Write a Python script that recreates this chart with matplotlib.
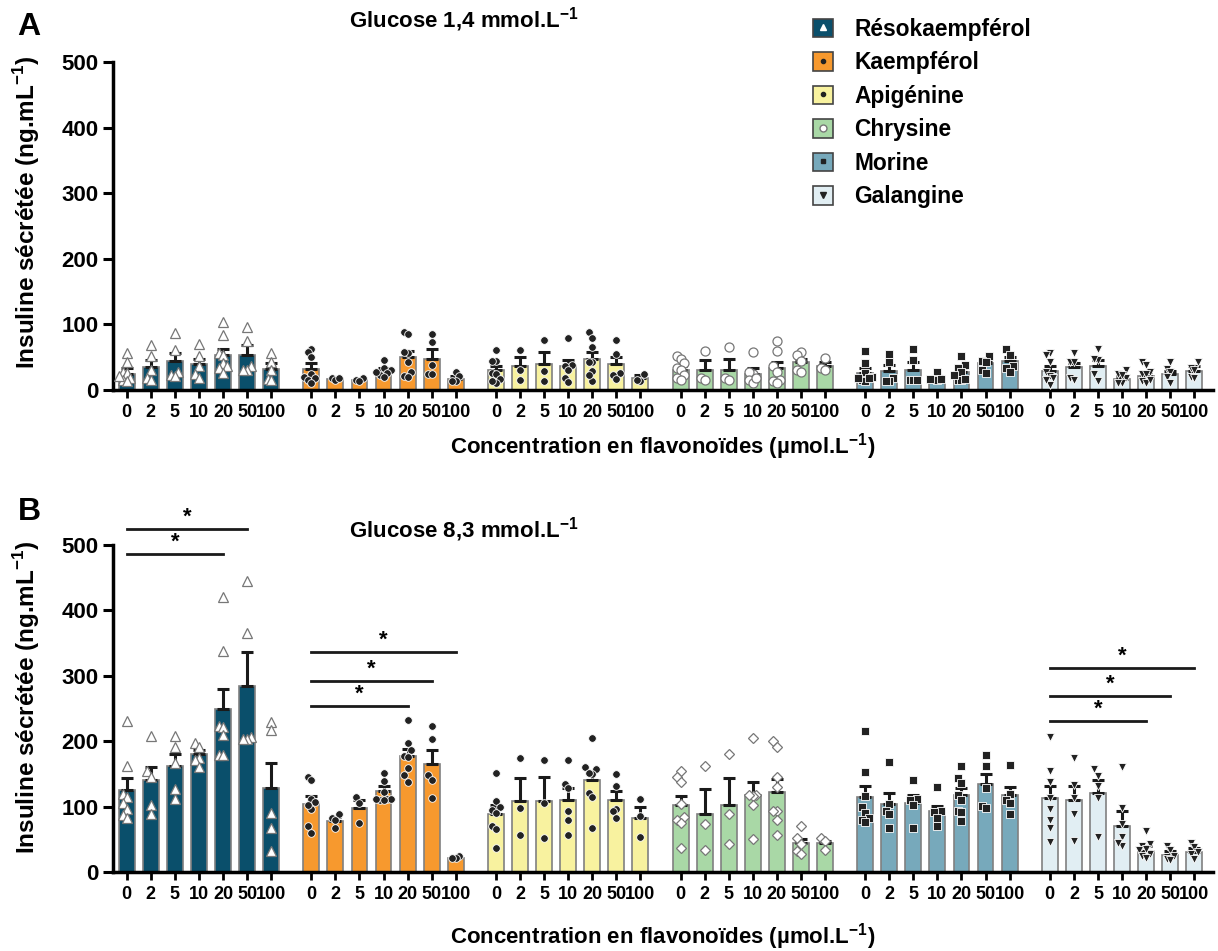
import numpy as np
import matplotlib.pyplot as plt
from matplotlib.patches import Patch
from matplotlib.lines import Line2D
from matplotlib.legend_handler import HandlerTuple

plt.rcParams['font.family'] = 'Liberation Sans'
plt.rcParams['font.weight'] = 'bold'
plt.rcParams['mathtext.fontset'] = 'custom'
plt.rcParams['mathtext.rm'] = 'Liberation Sans:bold'
plt.rcParams['mathtext.bf'] = 'Liberation Sans:bold'

concs = ['0', '2', '5', '10', '20', '50', '100']
compounds = ['Résokaempférol', 'Kaempférol', 'Apigénine', 'Chrysine', 'Morine', 'Galangine']
colors = ['#0a4f6b', '#f7992e', '#f8f29f', '#a9d8a6', '#77a9bb', '#e1eef3']

# glucose 1,4 mmol/L
reso_A_mean = [24, 35, 44, 40, 53, 53, 32]
reso_A_sem = [9, 10, 13, 8, 10, 15, 9]
reso_A_pts = [[57, 42, 28, 26, 19, 16, 13, 22], [69, 52, 30, 19, 15], [87, 61, 28, 23, 21],
              [70, 52, 36, 25, 19], [103, 84, 56, 53, 41, 36, 33, 26], [96, 74, 36, 30, 30],
              [56, 43, 30, 17, 15]]
kaem_A_mean = [32, 17, 15, 29, 50, 48, 17]
kaem_A_sem = [9, 2, 2, 4, 9, 14, 4]
kaem_A_pts = [[63, 58, 50, 25, 20, 15, 18, 10], [18, 15, 18], [18, 15, 14],
              [45, 33, 30, 26, 23, 20, 28], [88, 86, 57, 42, 28, 21, 20, 58], [85, 73, 38, 25, 24],
              [28, 21, 13, 14]]
api_A_mean = [30, 36, 39, 36, 48, 39, 18]
api_A_sem = [7, 14, 19, 10, 10, 12, 5]
api_A_pts = [[61, 44, 44, 26, 24, 17, 10, 14], [61, 30, 15], [76, 29, 13],
             [80, 38, 36, 30, 18, 12], [88, 79, 66, 42, 29, 14, 42, 23], [76, 55, 26, 23, 17],
             [25, 14, 15]]
chry_A_mean = [30, 31, 31, 25, 33, 43, 37]
chry_A_sem = [6, 15, 17, 8, 9, 5, 6]
chry_A_pts = [[52, 48, 41, 33, 30, 23, 18, 15], [60, 19, 16], [65, 19, 15],
              [58, 25, 28, 15, 10, 18], [75, 59, 37, 28, 15, 13, 10], [58, 53, 44, 30, 28],
              [49, 33, 30]]
mor_A_mean = [26, 29, 31, 20, 28, 41, 44]
mor_A_sem = [7, 9, 11, 2, 6, 4, 6]
mor_A_pts = [[60, 41, 26, 20, 16, 13, 18, 19], [55, 43, 18, 13, 13], [62, 46, 16, 16, 16],
             [28, 17, 16, 17, 17], [52, 38, 34, 27, 15, 15, 17, 23], [52, 44, 43, 31, 26],
             [63, 53, 37, 33, 28]]
gal_A_mean = [29, 35, 37, 17, 21, 24, 29]
gal_A_sem = [7, 6, 9, 4, 7, 5, 7]
gal_A_pts = [[57, 53, 42, 28, 21, 19, 8, 15], [57, 43, 43, 18, 15], [62, 45, 47, 24, 13],
             [31, 24, 19, 10, 10, 23], [43, 38, 27, 25, 24, 13, 10, 15], [42, 32, 28, 20, 11],
             [42, 34, 31, 20, 19]]

# glucose 8,3 mmol/L
reso_B_mean = [125, 140, 162, 180, 250, 285, 128]
reso_B_sem = [19, 21, 18, 6, 30, 52, 39]
reso_B_pts = [[231, 162, 120, 114, 106, 97, 87, 82], [208, 155, 145, 102, 88], [208, 191, 167, 127, 112],
              [198, 191, 174, 172, 161], [421, 338, 223, 222, 209, 179, 179], [445, 365, 206, 204, 204],
              [230, 217, 90, 67, 32]]
kaem_B_mean = [104, 78, 98, 124, 177, 165, 22]
kaem_B_sem = [12, 6, 12, 7, 11, 21, 2]
kaem_B_pts = [[146, 140, 112, 107, 97, 71, 60, 102], [88, 83, 79, 67], [115, 106, 75],
              [152, 139, 122, 111, 110, 111, 111, 110], [233, 197, 186, 178, 176, 159, 148, 138],
              [223, 203, 148, 140, 113], [24, 21, 21]]
api_B_mean = [89, 109, 109, 110, 140, 110, 83]
api_B_sem = [13, 35, 36, 18, 14, 14, 17]
api_B_pts = [[152, 108, 100, 95, 90, 70, 66, 37], [174, 98, 56], [172, 105, 52],
             [172, 134, 128, 93, 80, 57], [205, 158, 160, 150, 151, 121, 114, 68],
             [150, 131, 96, 93, 82], [111, 86, 53]]
chry_B_mean = [102, 89, 103, 117, 123, 44, 44]
chry_B_sem = [14, 38, 40, 21, 19, 6, 4]
chry_B_pts = [[154, 145, 138, 104, 84, 79, 75, 37], [162, 73, 34], [180, 88, 43],
              [205, 118, 116, 103, 51, 117], [200, 191, 145, 130, 93, 93, 80, 56],
              [70, 52, 43, 32, 28], [52, 47, 34]]
mor_B_mean = [115, 104, 106, 93, 117, 134, 117]
mor_B_sem = [17, 17, 11, 8, 11, 16, 13]
mor_B_pts = [[216, 153, 116, 100, 90, 82, 80, 76], [168, 104, 94, 88, 67], [140, 112, 110, 102, 68],
             [130, 94, 91, 83, 70], [162, 143, 136, 117, 110, 94, 91, 78], [179, 162, 128, 101, 98],
             [164, 119, 110, 106, 89]]
gal_B_mean = [113, 110, 121, 70, 32, 26, 30]
gal_B_sem = [18, 22, 20, 23, 8, 6, 7]
gal_B_pts = [[206, 155, 137, 113, 96, 80, 67, 46], [175, 133, 113, 88, 47], [158, 147, 131, 113, 53],
             [160, 98, 74, 53, 39, 45], [62, 43, 39, 33, 28, 25, 22, 35], [40, 33, 25, 20, 18],
             [45, 38, 30, 27, 20]]

# significance brackets in B: (compound, from conc index, to conc index, height)
sig_B = [(0, 0, 4, 486), (0, 0, 5, 524),
         (1, 0, 4, 254), (1, 0, 5, 292), (1, 0, 6, 336),
         (5, 0, 4, 231), (5, 0, 5, 269), (5, 0, 6, 312)]

GAP = 7.67

def swarm(ys, step=0.15, thr=11):
    ys = np.asarray(ys, float)
    off = np.zeros(len(ys))
    placed = []
    for k in np.argsort(ys):
        for c in [0, -step, step, -2 * step, 2 * step, -3 * step, 3 * step]:
            if all(abs(c - pc) > step * 0.9 or abs(ys[k] - py) > thr for pc, py in placed):
                break
        off[k] = c
        placed.append((c, ys[k]))
    return off

def styles(chry_marker):
    return [dict(marker='^', mfc='white', mec='#777777', ms=7, mew=0.9),
            dict(marker='o', mfc='#222222', mec='white', ms=5.5, mew=0.6),
            dict(marker='o', mfc='#222222', mec='white', ms=5.5, mew=0.6),
            dict(marker=chry_marker, mfc='white', mec='#777777',
                 ms=6.5 if chry_marker == 'o' else 5.5, mew=0.9),
            dict(marker='s', mfc='#222222', mec='white', ms=5.5, mew=0.6),
            dict(marker='v', mfc='#222222', mec='white', ms=6, mew=0.6)]

def draw(ax, means, sems, pts, chry_marker):
    st = styles(chry_marker)
    for g in range(6):
        x = g * GAP + np.arange(7)
        ax.bar(x, means[g], width=0.66, color=colors[g], edgecolor='#808080', lw=1.2, zorder=2)
        ax.errorbar(x, means[g], yerr=[np.zeros(7), sems[g]], fmt='none', ecolor='#1a1a1a',
                    elinewidth=2.2, capsize=4.5, capthick=2.2, zorder=3)
        for i in range(7):
            off = swarm(pts[g][i])
            ax.plot(x[i] + off, pts[g][i], ls='none', zorder=4, clip_on=False, **st[g])
    ax.set_xlim(-0.57, 45.13)
    ax.set_ylim(0, 500)
    for s in ['top', 'right']:
        ax.spines[s].set_visible(False)
    for s in ['left', 'bottom']:
        ax.spines[s].set_linewidth(2.5)
    ax.set_yticks(range(0, 501, 100))
    ax.tick_params(axis='y', labelsize=16, width=2.2, length=7)
    xt = np.concatenate([g * GAP + np.arange(7) for g in range(6)])
    ax.set_xticks(xt)
    ax.set_xticklabels(concs * 6)
    ax.tick_params(axis='x', labelsize=13, width=2, length=6, pad=4)

fig = plt.figure(figsize=(12.18, 9.51), dpi=100)
axA = fig.add_axes([113 / 1218, 1 - 390 / 951, 1100 / 1218, 328 / 951])
axB = fig.add_axes([113 / 1218, 1 - 872 / 951, 1100 / 1218, 327 / 951])

draw(axA, [reso_A_mean, kaem_A_mean, api_A_mean, chry_A_mean, mor_A_mean, gal_A_mean],
     [reso_A_sem, kaem_A_sem, api_A_sem, chry_A_sem, mor_A_sem, gal_A_sem],
     [reso_A_pts, kaem_A_pts, api_A_pts, chry_A_pts, mor_A_pts, gal_A_pts], 'o')
draw(axB, [reso_B_mean, kaem_B_mean, api_B_mean, chry_B_mean, mor_B_mean, gal_B_mean],
     [reso_B_sem, kaem_B_sem, api_B_sem, chry_B_sem, mor_B_sem, gal_B_sem],
     [reso_B_pts, kaem_B_pts, api_B_pts, chry_B_pts, mor_B_pts, gal_B_pts], 'D')

for g, a, b, h in sig_B:
    x0 = g * GAP + a
    x1 = g * GAP + b
    axB.plot([x0, x1], [h, h], color='#1a1a1a', lw=2, clip_on=False)
    axB.text((x0 + x1) / 2, h + 2, '*', ha='center', va='bottom', fontsize=16)

ylab = r'Insuline sécrétée (ng.mL$^{-1}$)'
xlab = r'Concentration en flavonoïdes (µmol.L$^{-1}$)'
fig.text(27 / 1218, 1 - 212 / 951, ylab, rotation=90, ha='center', va='center', fontsize=17.5)
fig.text(27 / 1218, 1 - 697 / 951, ylab, rotation=90, ha='center', va='center', fontsize=17.5)
fig.text(663 / 1218, 1 - 447 / 951, xlab, ha='center', va='center', fontsize=16)
fig.text(663 / 1218, 1 - 937 / 951, xlab, ha='center', va='center', fontsize=16)
fig.text(464 / 1218, 1 - 20 / 951, r'Glucose 1,4 mmol.L$^{-1}$', ha='center', va='center', fontsize=16)
fig.text(464 / 1218, 1 - 530 / 951, r'Glucose 8,3 mmol.L$^{-1}$', ha='center', va='center', fontsize=16)
fig.text(29 / 1218, 1 - 27 / 951, 'A', ha='center', va='center', fontsize=23)
fig.text(29 / 1218, 1 - 512 / 951, 'B', ha='center', va='center', fontsize=23)

leg_marks = [dict(marker='^', mfc='white', mec='white', ms=4),
             dict(marker='o', mfc='#222222', mec='#222222', ms=3),
             dict(marker='o', mfc='#222222', mec='#222222', ms=3),
             dict(marker='o', mfc='white', mec='#777777', ms=5),
             dict(marker='s', mfc='#222222', mec='#222222', ms=3.5),
             dict(marker='v', mfc='#222222', mec='#222222', ms=4)]
handles = [(Patch(facecolor=colors[g], edgecolor='#444444', lw=1.2),
            Line2D([], [], ls='none', **leg_marks[g])) for g in range(6)]
fig.legend(handles, compounds, handler_map={tuple: HandlerTuple(ndivide=1)},
           loc='upper left', bbox_to_anchor=(813 / 1218, 1 - 18 / 951), frameon=False,
           fontsize=16.4, handlelength=0.88, handleheight=0.88, handletextpad=0.92,
           labelspacing=0.46, borderpad=0, borderaxespad=0)

fig.savefig('out.png', dpi=100)
